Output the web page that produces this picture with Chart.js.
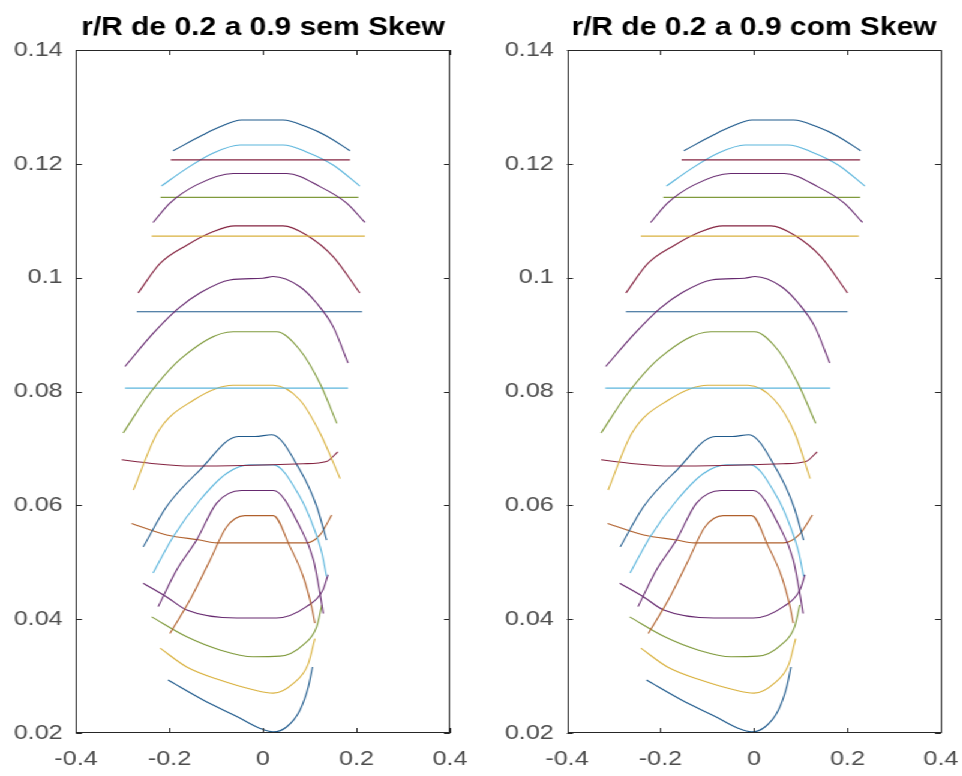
<!DOCTYPE html>
<html>
<head>
<meta charset="utf-8">
<script src="https://cdn.jsdelivr.net/npm/chart.js@4.4.1/dist/chart.umd.min.js"></script>
<style>
  html, body { margin: 0; padding: 0; background: #fff; }
  #fig { position: relative; width: 802px; height: 776px; transform: scaleX(1.2); transform-origin: 0 0; }
  #fig canvas { position: absolute; top: 0; }
</style>
</head>
<body>
<div id="fig">
  <canvas id="semSkew" width="400" height="776" style="left:0"></canvas>
  <canvas id="comSkew" width="402" height="776" style="left:400px"></canvas>
</div>
<script>
// eixos
const xTicks = [-0.4, -0.2, 0, 0.2, 0.4];
const yTicks = [0.02, 0.04, 0.06, 0.08, 0.1, 0.12, 0.14];
const titles = ['r/R de 0.2 a 0.9 sem Skew', 'r/R de 0.2 a 0.9 com Skew'];

// secoes sem skew  [x, y]
const semA1 = [[-0.192,0.1223],[-0.128,0.1251],[-0.092,0.1265],[-0.046,0.1277],[0.043,0.1277],[0.093,0.1265],[0.136,0.1249],[0.186,0.1223]];
const semL1 = [[-0.197,0.1207],[0.186,0.1207]];
const semA2 = [[-0.217,0.1161],[-0.163,0.1192],[-0.106,0.1219],[-0.049,0.1233],[0.043,0.1233],[0.093,0.1221],[0.150,0.1198],[0.207,0.1161]];
const semA3 = [[-0.235,0.1097],[-0.199,0.1131],[-0.142,0.1163],[-0.064,0.1183],[0.051,0.1183],[0.122,0.1160],[0.179,0.1131],[0.218,0.1097]];
const semL2 = [[-0.219,0.1141],[0.204,0.1141]];
const semL3 = [[-0.238,0.1073],[0.218,0.1073]];
const semA4 = [[-0.267,0.0973],[-0.220,0.1025],[-0.163,0.1057],[-0.106,0.1081],[-0.060,0.1091],[0.043,0.1091],[0.093,0.1075],[0.150,0.1037],[0.207,0.0973]];
const semA5 = [[-0.295,0.0844],[-0.235,0.0902],[-0.181,0.0946],[-0.135,0.0973],[-0.071,0.0996],[0.000,0.0999],[0.022,0.1002],[0.079,0.0984],[0.115,0.0955],[0.150,0.0914],[0.182,0.0850]];
const semL4 = [[-0.270,0.0940],[0.212,0.0940]];
const semA6 = [[-0.299,0.0727],[-0.242,0.0797],[-0.171,0.0861],[-0.064,0.0905],[0.029,0.0905],[0.079,0.0873],[0.122,0.0814],[0.158,0.0744]];
const semL5 = [[-0.295,0.0806],[0.182,0.0806]];
const semA7 = [[-0.277,0.0627],[-0.226,0.0727],[-0.148,0.0785],[-0.064,0.0811],[0.022,0.0811],[0.079,0.0785],[0.122,0.0727],[0.165,0.0647]];
const semL6 = [[-0.302,0.0680],[-0.242,0.0674],[-0.153,0.0669],[0.086,0.0673],[0.136,0.0677],[0.160,0.0694]];
const semA8 = [[-0.256,0.0527],[-0.206,0.0598],[-0.135,0.0662],[-0.053,0.0721],[-0.017,0.0721],[0.019,0.0724],[0.079,0.0662],[0.115,0.0598],[0.136,0.0539]];
const semA9 = [[-0.235,0.0481],[-0.192,0.0545],[-0.135,0.0609],[-0.078,0.0656],[-0.028,0.0671],[0.022,0.0671],[0.079,0.0615],[0.108,0.0562],[0.126,0.0516],[0.136,0.0475]];
const semA10 = [[-0.224,0.0422],[-0.185,0.0486],[-0.142,0.0539],[-0.099,0.0604],[-0.046,0.0626],[0.022,0.0626],[0.079,0.0562],[0.108,0.0504],[0.122,0.0445],[0.129,0.0410]];
const semA11 = [[-0.199,0.0375],[-0.156,0.0434],[-0.113,0.0504],[-0.078,0.0562],[-0.039,0.0582],[0.022,0.0582],[0.058,0.0527],[0.086,0.0475],[0.104,0.0422],[0.111,0.0393]];
const semL7 = [[-0.281,0.0568],[-0.206,0.0548],[-0.135,0.0539],[-0.099,0.0534],[0.093,0.0534],[0.122,0.0548],[0.147,0.0583]];
const semU1 = [[-0.256,0.0463],[-0.206,0.0439],[-0.163,0.0416],[-0.056,0.0402],[0.029,0.0402],[0.093,0.0422],[0.128,0.0451],[0.139,0.0478]];
const semU2 = [[-0.238,0.0404],[-0.163,0.0369],[-0.092,0.0346],[-0.021,0.0334],[0.036,0.0335],[0.086,0.0355],[0.115,0.0387],[0.126,0.0425]];
const semU3 = [[-0.220,0.0349],[-0.163,0.0316],[-0.092,0.0293],[-0.021,0.0276],[0.022,0.0270],[0.065,0.0287],[0.097,0.0322],[0.111,0.0366]];
const semU4 = [[-0.203,0.0293],[-0.128,0.0258],[-0.056,0.0229],[-0.006,0.0208],[0.022,0.0202],[0.051,0.0211],[0.079,0.0240],[0.097,0.0281],[0.106,0.0316]];

// secoes com skew  [x, y]
const comA1 = [[-0.150,0.1223],[-0.086,0.1251],[-0.050,0.1265],[-0.004,0.1277],[0.085,0.1277],[0.135,0.1265],[0.178,0.1249],[0.228,0.1223]];
const comL1 = [[-0.155,0.1207],[0.227,0.1207]];
const comA2 = [[-0.187,0.1161],[-0.133,0.1192],[-0.076,0.1219],[-0.019,0.1233],[0.073,0.1233],[0.123,0.1221],[0.180,0.1198],[0.237,0.1161]];
const comA3 = [[-0.221,0.1097],[-0.185,0.1131],[-0.128,0.1163],[-0.050,0.1183],[0.065,0.1183],[0.136,0.1160],[0.193,0.1131],[0.232,0.1097]];
const comL2 = [[-0.194,0.1141],[0.227,0.1141]];
const comL3 = [[-0.242,0.1073],[0.224,0.1073]];
const comA4 = [[-0.274,0.0973],[-0.227,0.1025],[-0.170,0.1057],[-0.113,0.1081],[-0.067,0.1091],[0.036,0.1091],[0.086,0.1075],[0.143,0.1037],[0.200,0.0973]];
const comA5 = [[-0.317,0.0844],[-0.255,0.0902],[-0.201,0.0946],[-0.155,0.0973],[-0.091,0.0996],[-0.020,0.0999],[0.002,0.1002],[0.059,0.0984],[0.095,0.0955],[0.130,0.0914],[0.162,0.0850]];
const comL4 = [[-0.274,0.0940],[0.200,0.0940]];
const comA6 = [[-0.327,0.0727],[-0.270,0.0797],[-0.199,0.0861],[-0.092,0.0905],[0.001,0.0905],[0.051,0.0873],[0.094,0.0814],[0.132,0.0744]];
const comL5 = [[-0.318,0.0806],[0.163,0.0806]];
const comA7 = [[-0.312,0.0627],[-0.261,0.0727],[-0.183,0.0785],[-0.099,0.0811],[-0.013,0.0811],[0.044,0.0785],[0.087,0.0727],[0.120,0.0647]];
const comL6 = [[-0.327,0.0680],[-0.267,0.0674],[-0.178,0.0669],[0.061,0.0673],[0.111,0.0677],[0.135,0.0694]];
const comA8 = [[-0.286,0.0527],[-0.236,0.0598],[-0.165,0.0662],[-0.083,0.0721],[-0.047,0.0721],[-0.011,0.0724],[0.049,0.0662],[0.085,0.0598],[0.106,0.0539]];
const comA9 = [[-0.265,0.0481],[-0.222,0.0545],[-0.165,0.0609],[-0.108,0.0656],[-0.058,0.0671],[-0.008,0.0671],[0.049,0.0615],[0.078,0.0562],[0.096,0.0516],[0.106,0.0475]];
const comA10 = [[-0.248,0.0422],[-0.209,0.0486],[-0.166,0.0539],[-0.123,0.0604],[-0.070,0.0626],[-0.002,0.0626],[0.055,0.0562],[0.084,0.0504],[0.098,0.0445],[0.105,0.0410]];
const comA11 = [[-0.226,0.0375],[-0.183,0.0434],[-0.140,0.0504],[-0.105,0.0562],[-0.066,0.0582],[-0.005,0.0582],[0.031,0.0527],[0.059,0.0475],[0.077,0.0422],[0.084,0.0393]];
const comL7 = [[-0.313,0.0568],[-0.236,0.0548],[-0.165,0.0539],[-0.129,0.0534],[0.063,0.0534],[0.096,0.0548],[0.125,0.0583]];
const comU1 = [[-0.287,0.0463],[-0.236,0.0439],[-0.193,0.0416],[-0.086,0.0402],[-0.001,0.0402],[0.063,0.0422],[0.098,0.0451],[0.109,0.0478]];
const comU2 = [[-0.266,0.0404],[-0.191,0.0369],[-0.120,0.0346],[-0.049,0.0334],[0.008,0.0335],[0.058,0.0355],[0.087,0.0387],[0.098,0.0425]];
const comU3 = [[-0.242,0.0349],[-0.185,0.0316],[-0.114,0.0293],[-0.043,0.0276],[0.000,0.0270],[0.043,0.0287],[0.075,0.0322],[0.089,0.0366]];
const comU4 = [[-0.230,0.0293],[-0.155,0.0258],[-0.083,0.0229],[-0.033,0.0208],[-0.005,0.0202],[0.024,0.0211],[0.052,0.0240],[0.070,0.0281],[0.079,0.0316]];

const FONT = '"Liberation Sans", Arial, sans-serif';
const AX = '#262626';
// paleta do MATLAB, um pouco escurecida como aparece na figura
const C = { blue: '#1f5a8c', orange: '#b0602c', yellow: '#d9b13e', purple: '#66296f', green: '#7f9a3c', cyan: '#5bb5dc', red: '#842340' };
const curveColors = [C.blue, C.red, C.cyan, C.purple, C.green, C.yellow, C.red, C.purple, C.blue, C.green, C.cyan,
  C.yellow, C.red, C.blue, C.cyan, C.purple, C.orange, C.orange, C.purple, C.green, C.yellow, C.blue];

const semCurves = [semA1, semL1, semA2, semA3, semL2, semL3, semA4, semA5, semL4, semA6, semL5, semA7, semL6, semA8, semA9, semA10, semA11, semL7, semU1, semU2, semU3, semU4];
const comCurves = [comA1, comL1, comA2, comA3, comL2, comL3, comA4, comA5, comL4, comA6, comL5, comA7, comL6, comA8, comA9, comA10, comA11, comL7, comU1, comU2, comU3, comU4];

const fmt = v => String(Math.round(v * 100) / 100);

// caixa estilo MATLAB: borda, ticks para dentro e titulo centrado no eixo
const matlabBox = {
  id: 'matlabBox',
  afterDraw(chart, args, opts) {
    const { ctx, chartArea: a, scales: { x, y } } = chart;
    const L = 5;
    ctx.save();
    ctx.strokeStyle = AX;
    ctx.lineWidth = 1;
    ctx.strokeRect(Math.round(a.left) + 0.5, Math.round(a.top) + 0.5, Math.round(a.width) - 1, Math.round(a.height) - 1);
    ctx.beginPath();
    xTicks.forEach(v => {
      const px = Math.round(x.getPixelForValue(v)) + 0.5;
      ctx.moveTo(px, a.bottom); ctx.lineTo(px, a.bottom - L);
      ctx.moveTo(px, a.top); ctx.lineTo(px, a.top + L);
    });
    yTicks.forEach(v => {
      const py = Math.round(y.getPixelForValue(v)) + 0.5;
      ctx.moveTo(a.left, py); ctx.lineTo(a.left + L, py);
      ctx.moveTo(a.right, py); ctx.lineTo(a.right - L, py);
    });
    ctx.stroke();
    ctx.fillStyle = '#000';
    ctx.font = 'bold 25px ' + FONT;
    ctx.textAlign = 'center';
    ctx.textBaseline = 'alphabetic';
    ctx.fillText(opts.title, (a.left + a.right) / 2, 35);
    ctx.restore();
  }
};

function makeChart(id, curves, title, axisWidth, padRight) {
  return new Chart(document.getElementById(id), {
    type: 'scatter',
    data: {
      datasets: curves.map((pts, i) => ({
        data: pts.map(p => ({ x: p[0], y: p[1] })),
        showLine: true,
        borderColor: curveColors[i],
        borderWidth: 1.1,
        pointRadius: 0,
        cubicInterpolationMode: 'monotone',
      })),
    },
    options: {
      responsive: false,
      animation: false,
      layout: { padding: { top: 50, right: padRight, bottom: 0, left: 0 } },
      plugins: { legend: { display: false }, tooltip: { enabled: false }, matlabBox: { title } },
      scales: {
        x: {
          type: 'linear', min: -0.4, max: 0.4,
          afterBuildTicks: s => { s.ticks = xTicks.map(v => ({ value: v })); },
          afterFit: s => { s.height = 43; s.paddingLeft = 0; s.paddingRight = 0; },
          grid: { display: false, drawTicks: false },
          border: { display: false },
          ticks: { padding: 14, maxRotation: 0, autoSkip: false, color: '#4d4d4d', font: { family: FONT, size: 21 }, callback: fmt },
        },
        y: {
          type: 'linear', min: 0.02, max: 0.14,
          afterBuildTicks: s => { s.ticks = yTicks.map(v => ({ value: v })); },
          afterFit: s => { s.width = axisWidth; s.paddingTop = 0; s.paddingBottom = 0; },
          grid: { display: false, drawTicks: false },
          border: { display: false },
          ticks: { padding: 11, autoSkip: false, color: '#4d4d4d', font: { family: FONT, size: 21 }, callback: fmt },
        },
      },
    },
    plugins: [matlabBox],
  });
}

makeChart('semSkew', semCurves, titles[0], 63.3, 25);
makeChart('comSkew', comCurves, titles[1], 72.5, 17.8);
</script>
</body>
</html>
